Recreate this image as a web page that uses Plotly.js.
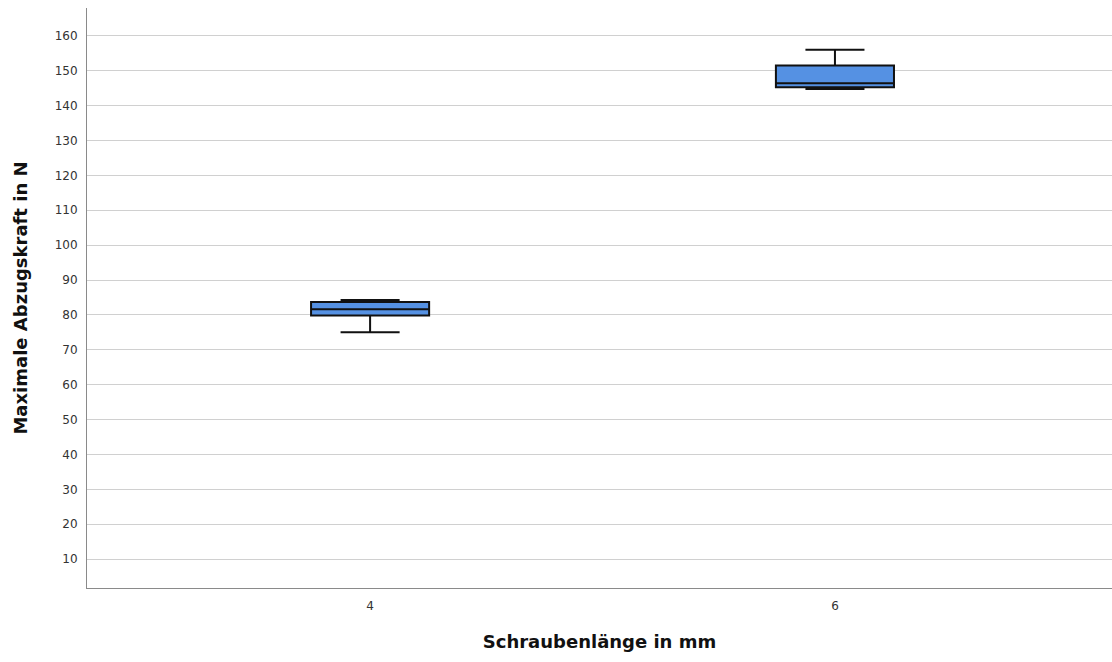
<!DOCTYPE html>
<html>
<head>
<meta charset="utf-8">
<script src="https://cdn.plot.ly/plotly-3.0.1.min.js"></script>
<style>html,body{margin:0;padding:0;background:#fff;}#chart{width:1112px;height:662px;}</style>
</head>
<body>
<div id="chart"></div>
<script>
// Schraubenlänge groups and their box statistics (N)
const lengths = ['4', '6'];
const lowerWhisker = [75.0, 144.8];
const q1 = [79.8, 145.3];
const median = [81.6, 146.4];
const q3 = [83.7, 151.5];
const upperWhisker = [84.3, 156.0];
const yTicks = [10, 20, 30, 40, 50, 60, 70, 80, 90, 100, 110, 120, 130, 140, 150, 160];

const trace = {
  type: 'box',
  x: lengths,
  q1: q1,
  median: median,
  q3: q3,
  lowerfence: lowerWhisker,
  upperfence: upperWhisker,
  width: 0.254,
  whiskerwidth: 0.5,
  fillcolor: '#5591e3',
  line: {color: '#111111', width: 2},
  hoverinfo: 'skip',
  showlegend: false
};

const font = '"DejaVu Sans", "Liberation Sans", sans-serif';

const layout = {
  width: 1112,
  height: 662,
  margin: {l: 87, r: 0, t: 8, b: 74},
  paper_bgcolor: '#ffffff',
  plot_bgcolor: '#ffffff',
  font: {family: font, color: '#333333'},
  xaxis: {
    type: 'category',
    range: [-0.609, 1.596],
    showgrid: false,
    showline: true,
    linecolor: '#8a8a8a',
    linewidth: 1,
    ticks: '',
    ticklabelstandoff: 7,
    zeroline: false,
    tickfont: {size: 12, color: '#333333'},
    title: {text: 'Schraubenlänge in mm', font: {size: 18, color: '#111111', family: font, weight: 'bold'}, standoff: 22}
  },
  yaxis: {
    range: [1.7, 168],
    tickvals: yTicks,
    showgrid: true,
    gridcolor: '#d0d0d0',
    gridwidth: 1,
    showline: true,
    linecolor: '#8a8a8a',
    linewidth: 1,
    zeroline: false,
    ticks: '',
    ticklabelstandoff: 6,
    tickfont: {size: 12, color: '#333333'},
    title: {text: 'Maximale Abzugskraft in N', font: {size: 18, color: '#111111', family: font, weight: 'bold'}, standoff: 22}
  }
};

Plotly.newPlot('chart', [trace], layout, {staticPlot: true, displayModeBar: false});
</script>
</body>
</html>
